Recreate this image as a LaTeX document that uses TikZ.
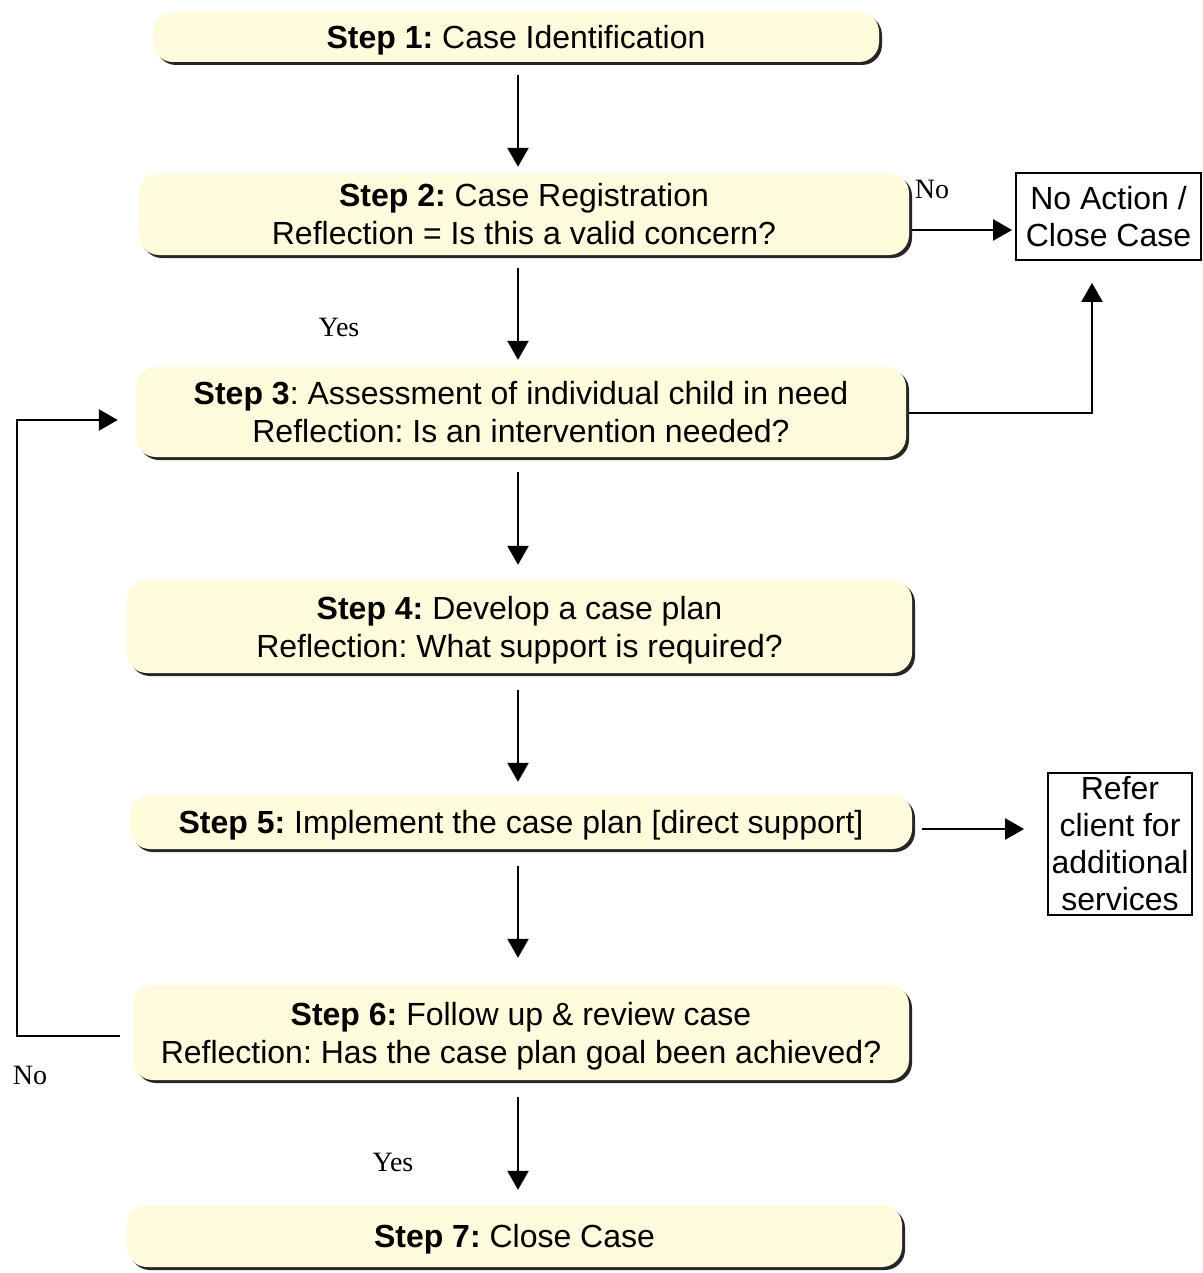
\documentclass[tikz,border=0pt]{standalone}
\usepackage{fontspec}
\setmainfont{Liberation Sans}
\newfontfamily\labelfont{Liberation Serif}
\usetikzlibrary{arrows.meta,shadows}
\definecolor{cream}{HTML}{FFFBDC}
\frenchspacing
\begin{document}
\begin{tikzpicture}[x=1pt,y=-1pt,
  stepbox/.style={fill=cream, rounded corners=20pt, inner sep=0pt, align=center,
    text depth=0pt, font=\fontsize{32}{38}\selectfont,
    general shadow={fill=black!85, shadow xshift=3pt, shadow yshift=-3pt}},
  sidebox/.style={draw=black, line width=1.8pt, inner sep=0pt, align=center,
    font=\fontsize{32}{37}\selectfont},
  arr/.style={line width=2.4pt, -{Triangle[length=19pt,width=21pt]}},
  lbl/.style={font=\labelfont\fontsize{28}{30}\selectfont, inner sep=0pt}]
\useasboundingbox (0,0) rectangle (1202,1273);

% process steps
\node[stepbox, minimum width=726pt, minimum height=50pt] (s1) at (516,37)
  {\textbf{Step 1:} Case Identification};
\node[stepbox, minimum width=770pt, minimum height=82pt] (s2) at (524,214)
  {\textbf{Step 2:} Case Registration\\Reflection = Is this a valid concern?};
\node[stepbox, minimum width=770pt, minimum height=90pt] (s3) at (521,412)
  {\textbf{Step 3}: Assessment of individual child in need\\Reflection: Is an intervention needed?};
\node[stepbox, minimum width=785pt, minimum height=93pt] (s4) at (519.5,626.5)
  {\textbf{Step 4:} Develop a case plan\\Reflection: What support is required?};
\node[stepbox, minimum width=782pt, minimum height=54pt] (s5) at (521,822)
  {\textbf{Step 5:} Implement the case plan [direct support]};
\node[stepbox, minimum width=776pt, minimum height=95pt] (s6) at (521,1032.5)
  {\textbf{Step 6:} Follow up \& review case\\Reflection: Has the case plan goal been achieved?};
\node[stepbox, minimum width=775pt, minimum height=62pt] (s7) at (514.5,1236)
  {\textbf{Step 7:} Close Case};

% outcome boxes
\node[sidebox, minimum width=185pt, minimum height=87pt] (na) at (1108.5,216.5)
  {No Action /\\Close Case};
\node[sidebox, minimum width=144pt, minimum height=142pt] (rf) at (1120,844)
  {Refer\\client for\\additional\\services};

% guide coordinates for the connectors
\coordinate (cx) at (518,0);
\coordinate (r2) at (0,230);
\coordinate (r3) at (0,413);
\coordinate (up) at (1092,0);
\coordinate (r5) at (0,829);
\coordinate (r6) at (0,1036);
\coordinate (r3b) at (0,420);
\coordinate (lp) at (17,0);

% main flow
\draw[arr, shorten <=13pt, shorten >=6pt] (s1.south -| cx) -- (s2.north -| cx);
\draw[arr, shorten <=13pt, shorten >=7pt] (s2.south -| cx) -- (s3.north -| cx);
\draw[arr, shorten <=15pt, shorten >=15pt] (s3.south -| cx) -- (s4.north -| cx);
\draw[arr, shorten <=17pt, shorten >=13pt] (s4.south -| cx) -- (s5.north -| cx);
\draw[arr, shorten <=17pt, shorten >=27pt] (s5.south -| cx) -- (s6.north -| cx);
\draw[arr, shorten <=17pt, shorten >=15pt] (s6.south -| cx) -- (s7.north -| cx);

% branches
\draw[arr, shorten <=3pt, shorten >=3pt] (s2.east |- r2) -- (na.west |- r2);
\draw[arr, shorten <=3pt, shorten >=22pt] (s3.east |- r3) -| (na.south -| up);
\draw[arr, shorten <=10pt, shorten >=23pt] (s5.east |- r5) -- (rf.west |- r5);
\draw[arr, shorten <=13pt, shorten >=18pt] (s6.west |- r6) -| (lp |- r3b) -- (s3.west |- r3b);

% decision labels
\node[lbl] (no1) at (932,189) {No};
\node[lbl] (yes1) at (339,327) {Yes};
\node[lbl] (no2) at (30,1075) {No};
\node[lbl] (yes2) at (393,1162) {Yes};
\end{tikzpicture}
\end{document}
